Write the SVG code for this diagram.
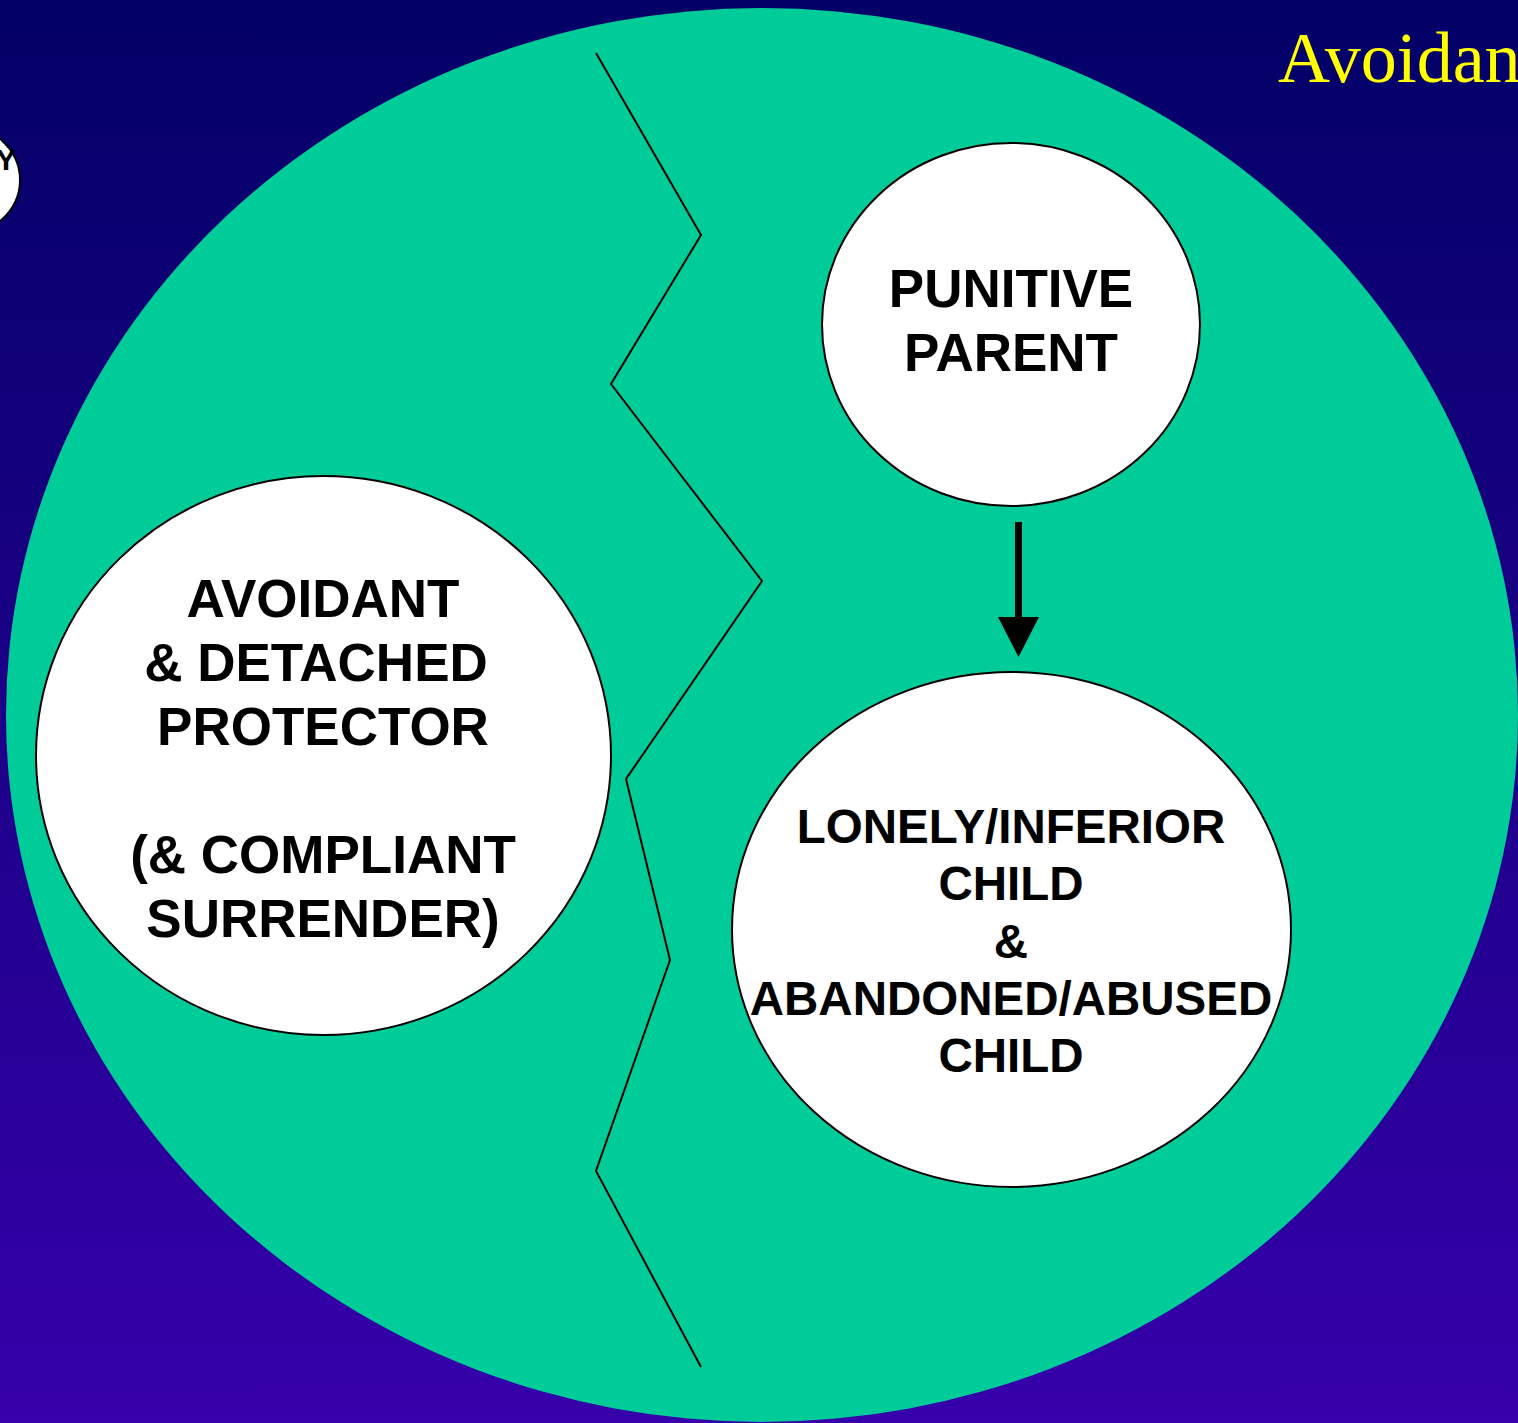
<svg xmlns="http://www.w3.org/2000/svg" width="1518" height="1423" viewBox="0 0 1518 1423">
  <defs>
    <linearGradient id="bg" x1="0" y1="0" x2="0" y2="1">
      <stop offset="0" stop-color="#020066"/>
      <stop offset="1" stop-color="#3600AA"/>
    </linearGradient>
    <!-- solid triangular head, drawn along +x so orient="auto" points it down the line -->
    <marker id="arrowhead" markerUnits="userSpaceOnUse" markerWidth="42" markerHeight="42" refX="0" refY="20.5" orient="auto" viewBox="0 0 42 42">
      <path d="M0,0 L40,20.5 L0,41 Z" fill="#000"/>
    </marker>
    <style>
      .node { fill: #ffffff; stroke: #000000; stroke-width: 2; }
      .label { font-family: "Liberation Sans", Arial, sans-serif; font-weight: bold; fill: #000000; text-anchor: middle; }
      .big { font-size: 53px; }
      .mid { font-size: 47.5px; }
      .title { font-family: "Liberation Serif", "Times New Roman", serif; font-size: 72px; fill: #FFFF00; }
    </style>
  </defs>

  <!-- backdrop -->
  <rect x="0" y="0" width="1518" height="1423" fill="url(#bg)"/>

  <!-- title -->
  <text class="title" x="1278" y="82">Avoidan</text>

  <!-- partially visible node at left edge -->
  <g id="node-offscreen">
    <ellipse class="node" cx="-42" cy="180" rx="62" ry="56"/>
    <text class="label" x="6" y="170" font-size="30px">Y</text>
  </g>

  <!-- enclosing mode field -->
  <g id="mode-field">
    <ellipse cx="762" cy="715" rx="756" ry="707" fill="#00CC99"/>
    <polyline points="596,53 701,235 611,384 762,581 626,779 670,960 596,1171 701,1367" fill="none" stroke="#000" stroke-width="2"/>
  </g>

  <g id="node-punitive-parent">
    <ellipse class="node" cx="1011" cy="324.5" rx="189" ry="181.5"/>
    <text class="label big" x="1011" y="307">PUNITIVE</text>
    <text class="label big" x="1011" y="371">PARENT</text>
  </g>

  <g id="node-avoidant-protector">
    <ellipse class="node" cx="323.5" cy="755.5" rx="287.5" ry="279.5"/>
    <text class="label big" x="323" y="617">AVOIDANT</text>
    <text class="label big" x="316" y="681">&amp; DETACHED</text>
    <text class="label big" x="323" y="745">PROTECTOR</text>
    <text class="label big" x="323" y="873">(&amp; COMPLIANT</text>
    <text class="label big" x="323" y="937">SURRENDER)</text>
  </g>

  <g id="node-lonely-child">
    <ellipse class="node" cx="1011.5" cy="929.5" rx="279.5" ry="257.5"/>
    <text class="label mid" x="1011" y="843">LONELY/INFERIOR</text>
    <text class="label mid" x="1011" y="900">CHILD</text>
    <text class="label mid" x="1011" y="958">&amp;</text>
    <text class="label mid" x="1011" y="1015">ABANDONED/ABUSED</text>
    <text class="label mid" x="1011" y="1072">CHILD</text>
  </g>

  <g id="connectors">
    <line x1="1018.5" y1="522" x2="1018.5" y2="617" stroke="#000" stroke-width="7" marker-end="url(#arrowhead)"/>
  </g>
</svg>
